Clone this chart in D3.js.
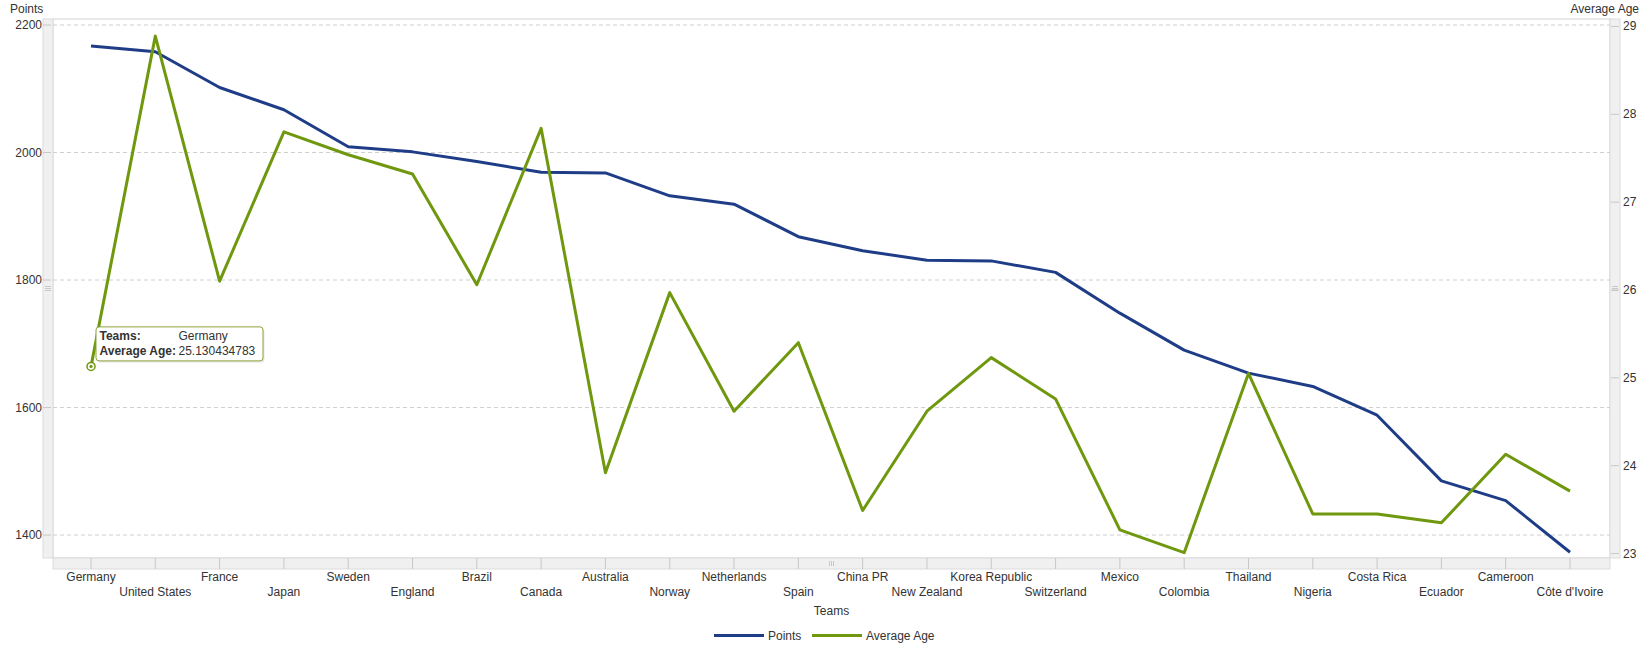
<!DOCTYPE html>
<html>
<head>
    <title>Points and Average Age by Team</title>
    <script src="https://d3js.org/d3.v7.min.js"></script>
    <style>
        body { margin: 0; background: #fff; }
        text { font-family: Arial, "Liberation Sans", sans-serif; fill: #333; }
    </style>
</head>
<body>
    <div id="chart"></div>
    <script>
        // data
        var teams = ["Germany", "United States", "France", "Japan", "Sweden", "England", "Brazil", "Canada",
            "Australia", "Norway", "Netherlands", "Spain", "China PR", "New Zealand", "Korea Republic",
            "Switzerland", "Mexico", "Colombia", "Thailand", "Nigeria", "Costa Rica", "Ecuador", "Cameroon",
            "Côte d'Ivoire"];
        var points = [2167, 2158, 2102, 2067, 2009, 2001, 1986, 1969, 1968, 1932, 1919, 1868, 1846, 1831, 1830,
            1812, 1748, 1690, 1654, 1633, 1588, 1485, 1454, 1373];
        var avgAge = [25.130434783, 28.89, 26.10, 27.80, 27.54, 27.32, 26.06, 27.84, 23.92, 25.97, 24.62, 25.40,
            23.49, 24.62, 25.23, 24.76, 23.27, 23.01, 25.05, 23.45, 23.45, 23.35, 24.13, 23.71];
        var pointTicks = [1400, 1600, 1800, 2000, 2200];
        var ageTicks = [23, 24, 25, 26, 27, 28, 29];

        var width = 1652, height = 654;
        var pLeft = 53, pRight = 1610, pTop = 19, pBottom = 558;
        var blue = "#1f3d87", green = "#6f980f";

        var svg = d3.select("#chart").append("svg")
            .attr("width", width)
            .attr("height", height);

        var x = d3.scalePoint().domain(teams).range([pLeft + 38, pRight - 40]);
        var yP = d3.scaleLinear().domain([1364, 2209.4]).range([pBottom, pTop]);
        var yA = d3.scaleLinear().domain([22.949, 29.085]).range([pBottom, pTop]);

        // frame and scroll-like bands
        svg.append("rect").attr("x", pLeft).attr("y", pTop).attr("width", pRight - pLeft).attr("height", pBottom - pTop)
            .attr("fill", "none").attr("stroke", "#d4d4d4");
        svg.append("rect").attr("x", pLeft - 10).attr("y", pTop).attr("width", 10).attr("height", pBottom - pTop)
            .attr("fill", "#f0f0f0").attr("stroke", "#dcdcdc");
        svg.append("rect").attr("x", pRight).attr("y", pTop).attr("width", 10).attr("height", pBottom - pTop)
            .attr("fill", "#f0f0f0").attr("stroke", "#dcdcdc");
        svg.append("rect").attr("x", pLeft).attr("y", pBottom).attr("width", pRight - pLeft).attr("height", 11)
            .attr("fill", "#f0f0f0").attr("stroke", "#dcdcdc");

        // grip marks
        [0, 2, 4].forEach(function(d) {
            svg.append("line").attr("x1", (pLeft + pRight) / 2 - 2 + d).attr("x2", (pLeft + pRight) / 2 - 2 + d)
                .attr("y1", pBottom + 3).attr("y2", pBottom + 8).attr("stroke", "#c8c8c8");
            svg.append("line").attr("x1", pLeft - 8).attr("x2", pLeft - 2)
                .attr("y1", (pTop + pBottom) / 2 - 2 + d).attr("y2", (pTop + pBottom) / 2 - 2 + d).attr("stroke", "#c8c8c8");
            svg.append("line").attr("x1", pRight + 2).attr("x2", pRight + 8)
                .attr("y1", (pTop + pBottom) / 2 - 2 + d).attr("y2", (pTop + pBottom) / 2 - 2 + d).attr("stroke", "#c8c8c8");
        });

        // gridlines
        svg.selectAll(".grid").data(pointTicks).enter().append("line")
            .attr("x1", pLeft).attr("x2", pRight)
            .attr("y1", function(d) { return yP(d); })
            .attr("y2", function(d) { return yP(d); })
            .attr("stroke", "#cfcfcf").attr("stroke-dasharray", "4,3");

        // left axis
        svg.selectAll(".ltick").data(pointTicks).enter().append("line")
            .attr("x1", pLeft - 10).attr("x2", pLeft - 2)
            .attr("y1", function(d) { return yP(d); }).attr("y2", function(d) { return yP(d); })
            .attr("stroke", "#c8c8c8");
        svg.selectAll(".llab").data(pointTicks).enter().append("text")
            .attr("x", pLeft - 11).attr("y", function(d) { return yP(d) + 4; })
            .attr("text-anchor", "end").attr("font-size", "12px")
            .text(function(d) { return d; });
        svg.append("text").attr("x", 10).attr("y", 13).attr("font-size", "12px").text("Points");

        // right axis
        svg.selectAll(".rtick").data(ageTicks).enter().append("line")
            .attr("x1", pRight + 1).attr("x2", pRight + 9)
            .attr("y1", function(d) { return yA(d); }).attr("y2", function(d) { return yA(d); })
            .attr("stroke", "#c8c8c8");
        svg.selectAll(".rlab").data(ageTicks).enter().append("text")
            .attr("x", pRight + 13).attr("y", function(d) { return yA(d) + 4; })
            .attr("font-size", "12px")
            .text(function(d) { return d; });
        svg.append("text").attr("x", 1639).attr("y", 13).attr("text-anchor", "end")
            .attr("font-size", "12px").text("Average Age");

        // x axis
        svg.selectAll(".xtick").data(teams).enter().append("line")
            .attr("x1", function(d) { return x(d); }).attr("x2", function(d) { return x(d); })
            .attr("y1", pBottom).attr("y2", pBottom + 11)
            .attr("stroke", "#c8c8c8");
        svg.selectAll(".xlab").data(teams).enter().append("text")
            .attr("x", function(d) { return x(d); })
            .attr("y", function(d, i) { return i % 2 === 0 ? 581 : 595.5; })
            .attr("text-anchor", "middle").attr("font-size", "12px")
            .text(function(d) { return d; });
        svg.append("text").attr("x", (pLeft + pRight) / 2).attr("y", 615)
            .attr("text-anchor", "middle").attr("font-size", "12px").text("Teams");

        // lines
        var lineP = d3.line()
            .x(function(d, i) { return x(teams[i]); })
            .y(function(d) { return yP(d); });
        var lineA = d3.line()
            .x(function(d, i) { return x(teams[i]); })
            .y(function(d) { return yA(d); });

        svg.append("path").datum(points).attr("d", lineP)
            .attr("fill", "none").attr("stroke", blue).attr("stroke-width", 3).attr("stroke-linejoin", "round");
        svg.append("path").datum(avgAge).attr("d", lineA)
            .attr("fill", "none").attr("stroke", green).attr("stroke-width", 3).attr("stroke-linejoin", "round");

        // highlighted point and tooltip
        var hx = x(teams[0]), hy = yA(avgAge[0]);
        svg.append("circle").attr("cx", hx).attr("cy", hy).attr("r", 4)
            .attr("fill", "#fff").attr("stroke", green).attr("stroke-width", 1.5);
        svg.append("circle").attr("cx", hx).attr("cy", hy).attr("r", 1.6).attr("fill", green);

        var tip = svg.append("g").attr("transform", "translate(" + (hx + 5) + "," + (hy - 39.5) + ")");
        tip.append("rect").attr("x", 1.5).attr("y", 1.5).attr("width", 167).attr("height", 34).attr("rx", 3)
            .attr("fill", "#d8d8d8").attr("opacity", 0.6);
        tip.append("rect").attr("width", 167).attr("height", 34).attr("rx", 3)
            .attr("fill", "#fff").attr("stroke", "#8aa33a");
        tip.append("text").attr("x", 3.5).attr("y", 13.5).attr("font-size", "12px")
            .attr("font-weight", "bold").text("Teams:");
        tip.append("text").attr("x", 82.5).attr("y", 13.5).attr("font-size", "12px").text(teams[0]);
        tip.append("text").attr("x", 3.5).attr("y", 28.5).attr("font-size", "12px")
            .attr("font-weight", "bold").text("Average Age:");
        tip.append("text").attr("x", 82.5).attr("y", 28.5).attr("font-size", "12px").text(avgAge[0]);

        // legend
        var legend = [{name: "Points", color: blue, x: 714}, {name: "Average Age", color: green, x: 812}];
        var lg = svg.selectAll(".legend").data(legend).enter().append("g");
        lg.append("line")
            .attr("x1", function(d) { return d.x; }).attr("x2", function(d) { return d.x + 50; })
            .attr("y1", 635.5).attr("y2", 635.5)
            .attr("stroke", function(d) { return d.color; }).attr("stroke-width", 3);
        lg.append("text")
            .attr("x", function(d) { return d.x + 54; }).attr("y", 640)
            .attr("font-size", "12px")
            .text(function(d) { return d.name; });
    </script>
</body>
</html>
